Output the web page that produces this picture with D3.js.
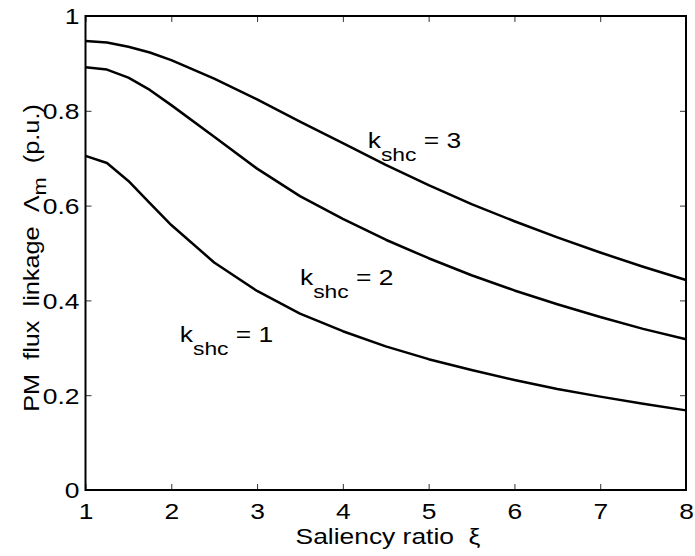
<!DOCTYPE html>
<html>
<head>
<meta charset="utf-8">
<script src="https://cdnjs.cloudflare.com/ajax/libs/d3/7.8.5/d3.min.js"></script>
<style>
  body { margin: 0; background: #fff; }
  svg text { font-family: "Liberation Sans", Arial, sans-serif; fill: #000; white-space: pre; }
</style>
</head>
<body>
<svg id="chart" width="695" height="556"></svg>
<script>
// saliency ratio samples
var xi = [1, 1.25, 1.5, 1.75, 2, 2.5, 3, 3.5, 4, 4.5, 5, 5.5, 6, 6.5, 7, 7.5, 8];
// PM flux linkage (p.u.) for each k_shc
var k1 = [0.705, 0.690, 0.652, 0.605, 0.559, 0.480, 0.420, 0.372, 0.335, 0.303, 0.276, 0.253, 0.232, 0.213, 0.197, 0.182, 0.168];
var k2 = [0.892, 0.887, 0.870, 0.844, 0.812, 0.745, 0.678, 0.620, 0.572, 0.528, 0.489, 0.453, 0.421, 0.392, 0.365, 0.340, 0.318];
var k3 = [0.947, 0.944, 0.935, 0.923, 0.907, 0.868, 0.824, 0.777, 0.732, 0.686, 0.643, 0.603, 0.567, 0.533, 0.501, 0.471, 0.443];
var xTicks = [1, 2, 3, 4, 5, 6, 7, 8];
var yTicks = [0, 0.2, 0.4, 0.6, 0.8, 1];
var curveLabels = [
    {k: "1", x: 2.1, y: 0.312},
    {k: "2", x: 3.5, y: 0.432},
    {k: "3", x: 4.29, y: 0.722}
];

var svg = d3.select("#chart");
var mLeft = 85.5, mRight = 686, mTop = 16, mBottom = 490;
var SX = 1.2;  // the original font is wider than Liberation Sans

var x = d3.scaleLinear().domain([1, 8]).range([mLeft, mRight]);
var y = d3.scaleLinear().domain([0, 1]).range([mBottom, mTop]);

function stretch(sel, pre, sx){
    sx = sx || SX;
    sel.each(function(){
        var t = d3.select(this);
        var tx = +t.attr("x") || 0;
        t.attr("x", tx / sx).attr("transform", (pre || "") + " scale(" + sx + ",1)");
    });
}

// axes, ticks pointing in
var xAxis = svg.append("g").attr("transform", "translate(0," + mBottom + ")")
    .call(d3.axisBottom(x).tickValues(xTicks).tickSizeInner(-6).tickSizeOuter(0).tickPadding(13).tickFormat(d3.format("d")));
svg.append("g").attr("transform", "translate(0," + mTop + ")")
    .call(d3.axisTop(x).tickValues(xTicks).tickSizeInner(-6).tickSizeOuter(0).tickFormat(""));
var yAxis = svg.append("g").attr("transform", "translate(" + mLeft + ",0)")
    .call(d3.axisLeft(y).tickValues(yTicks).tickSizeInner(-6).tickSizeOuter(0).tickPadding(6).tickFormat(function(d){ return d === 0 || d === 1 ? d : d3.format(".1f")(d); }));
svg.append("g").attr("transform", "translate(" + mRight + ",0)")
    .call(d3.axisRight(y).tickValues(yTicks).tickSizeInner(-6).tickSizeOuter(0).tickFormat(""));

svg.selectAll(".domain").remove();
svg.selectAll(".tick line").attr("stroke", "#333").attr("stroke-width", 1);
svg.selectAll(".tick text").style("font-size", "22px");
yAxis.selectAll(".tick text").attr("dy", "0.36em");
xAxis.selectAll(".tick text").attr("dy", "0.72em");
stretch(svg.selectAll(".tick text"));

// frame
svg.append("rect")
    .attr("x", mLeft).attr("y", mTop)
    .attr("width", mRight - mLeft).attr("height", mBottom - mTop)
    .attr("fill", "none").attr("stroke", "#000").attr("stroke-width", 2);

var line = d3.line()
    .x(function(d){ return x(d[0]); })
    .y(function(d){ return y(d[1]); });

[k1, k2, k3].forEach(function(s){
    svg.append("path")
        .datum(xi.map(function(v, i){ return [v, s[i]]; }))
        .attr("d", line)
        .attr("fill", "none")
        .attr("stroke", "#000")
        .attr("stroke-width", 2.5)
        .attr("stroke-linejoin", "round");
});

// curve labels
curveLabels.forEach(function(c){
    var t = svg.append("text")
        .attr("x", x(c.x)).attr("y", y(c.y))
        .style("font-size", "22px");
    t.append("tspan").text("k");
    t.append("tspan").attr("dy", 13).style("font-size", "19px").text("shc");
    t.append("tspan").attr("dy", -13).text(" = " + c.k);
    stretch(t);
});

// axis titles
var xl = svg.append("text")
    .attr("x", 388).attr("y", 544)
    .attr("text-anchor", "middle")
    .style("font-size", "22px")
    .text("Saliency ratio  \u03BE");
stretch(xl);

var yl = svg.append("text")
    .attr("text-anchor", "middle")
    .style("font-size", "22px");
yl.append("tspan").text("PM  flux  linkage  \u039B");
yl.append("tspan").attr("dy", 7).style("font-size", "19px").text("m");
yl.append("tspan").attr("dy", -7).text("  (p.u.)");
stretch(yl, "translate(39,258) rotate(-90)", 1.15);
</script>
</body>
</html>
